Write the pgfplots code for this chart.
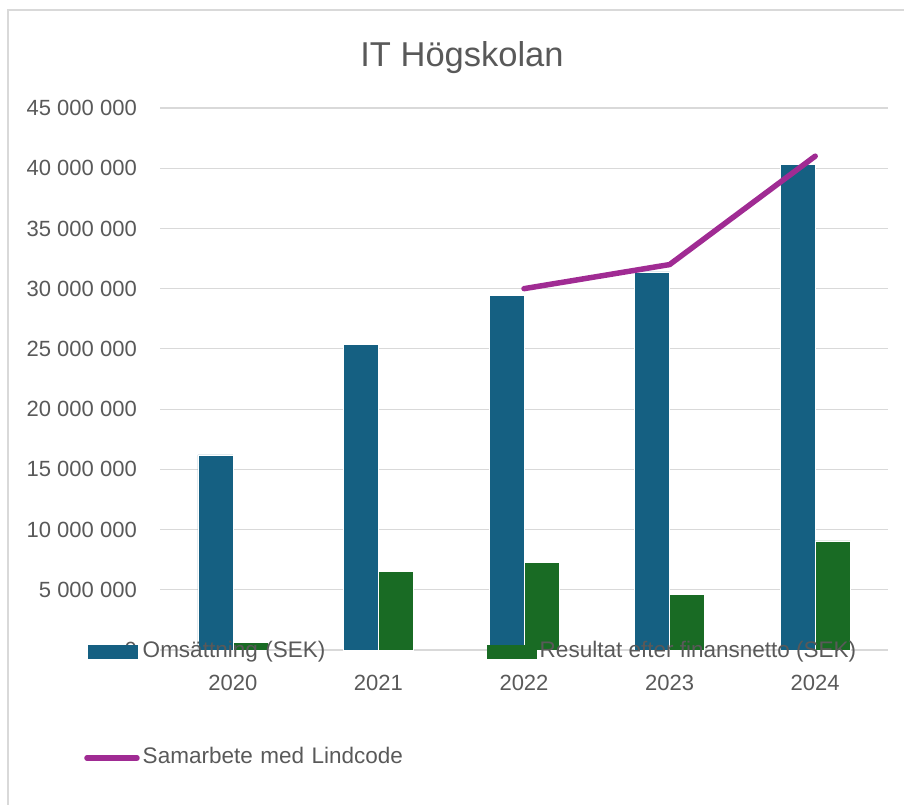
\documentclass[border=0pt]{standalone}
\usepackage{pgfplots}
\pgfplotsset{compat=1.18}
\usepackage{fontspec}
\setmainfont{Liberation Sans}
\definecolor{cblue}{HTML}{156082}
\definecolor{cgreen}{HTML}{196B24}
\definecolor{cpurple}{HTML}{A02B93}
\definecolor{txt}{HTML}{595959}
\definecolor{gridgrey}{HTML}{D9D9D9}
\begin{document}
\begin{tikzpicture}[x=1pt,y=1pt]
\useasboundingbox (0,0) rectangle (904,805);
\draw[gridgrey, line width=1.2pt] (8,-5) -- (8,795) -- (910,795);
\node[text=txt, font=\fontsize{34.5}{40}\selectfont, anchor=base] at (462,738) {IT Högskolan};
\begin{axis}[
  at={(160pt,155pt)}, anchor=south west, scale only axis,
  width=728pt, height=542pt,
  xmin=-0.5, xmax=4.5, ymin=0, ymax=45000000,
  ytick={0,5000000,10000000,15000000,20000000,25000000,30000000,35000000,40000000,45000000},
  xtick={0,1,2,3,4}, xticklabels={2020,2021,2022,2023,2024},
  axis line style={draw=none}, major tick length=0pt,
  ymajorgrids, grid style={draw=gridgrey, line width=1.2pt},
  scaled y ticks=false,
  tick label style={font=\fontsize{22}{26}\selectfont, text=txt, inner sep=0pt},
  yticklabel style={/pgf/number format/.cd, fixed, 1000 sep={\ }, assume math mode=true},
  xticklabel style={/pgf/number format/assume math mode=true},
  yticklabel shift=23pt, xticklabel shift=25pt,
  clip=false,
  legend columns=2,
  legend cell align=left,
  legend style={draw=none, fill=none, inner sep=0pt, outer sep=0pt,
    at={(axis description cs:-0.1044,0.0157)}, anchor=north west,
    font=\fontsize{22.5}{26}\selectfont, text=txt,
    column sep=3pt, row sep=85pt,
    nodes={inner sep=0pt, text height=16pt, text depth=5pt},
    /tikz/column 2/.style={text width=337pt}},
]
\addplot[ybar, bar width=35pt, bar shift=-17.5pt, fill=cblue, draw=white, line width=0.4pt,
  legend image code/.code={\path[draw=none, fill=none] (-4pt,-7pt) rectangle (47pt,7pt); \fill[cblue, draw=none] (0pt,-7pt) rectangle (50pt,7pt);}]
  coordinates {(0,16200000) (1,25400000) (2,29450000) (3,31400000) (4,40350000)};
\addlegendentry{Omsättning (SEK)}
\addplot[ybar, bar width=35pt, bar shift=17.5pt, fill=cgreen, draw=white, line width=0.4pt,
  legend image code/.code={\path[draw=none, fill=none] (-4pt,-7pt) rectangle (47pt,7pt); \fill[cgreen, draw=none] (0pt,-7pt) rectangle (50pt,7pt);}]
  coordinates {(0,660000) (1,6550000) (2,7250000) (3,4600000) (4,9050000)};
\addlegendentry{Resultat efter finansnetto (SEK)}
\addplot[sharp plot, color=cpurple, line width=5.5pt, line cap=round, line join=round, mark=none,
  legend image code/.code={\path[draw=none, fill=none] (-4pt,-7pt) rectangle (47pt,7pt); \draw[cpurple, line width=5.5pt, line cap=round, fill=none] (-1pt,0pt) -- (49pt,0pt);}]
  coordinates {(2,30000000) (3,32000000) (4,41000000)};
\addlegendentry{Samarbete med Lindcode}
\end{axis}
\end{tikzpicture}
\end{document}
